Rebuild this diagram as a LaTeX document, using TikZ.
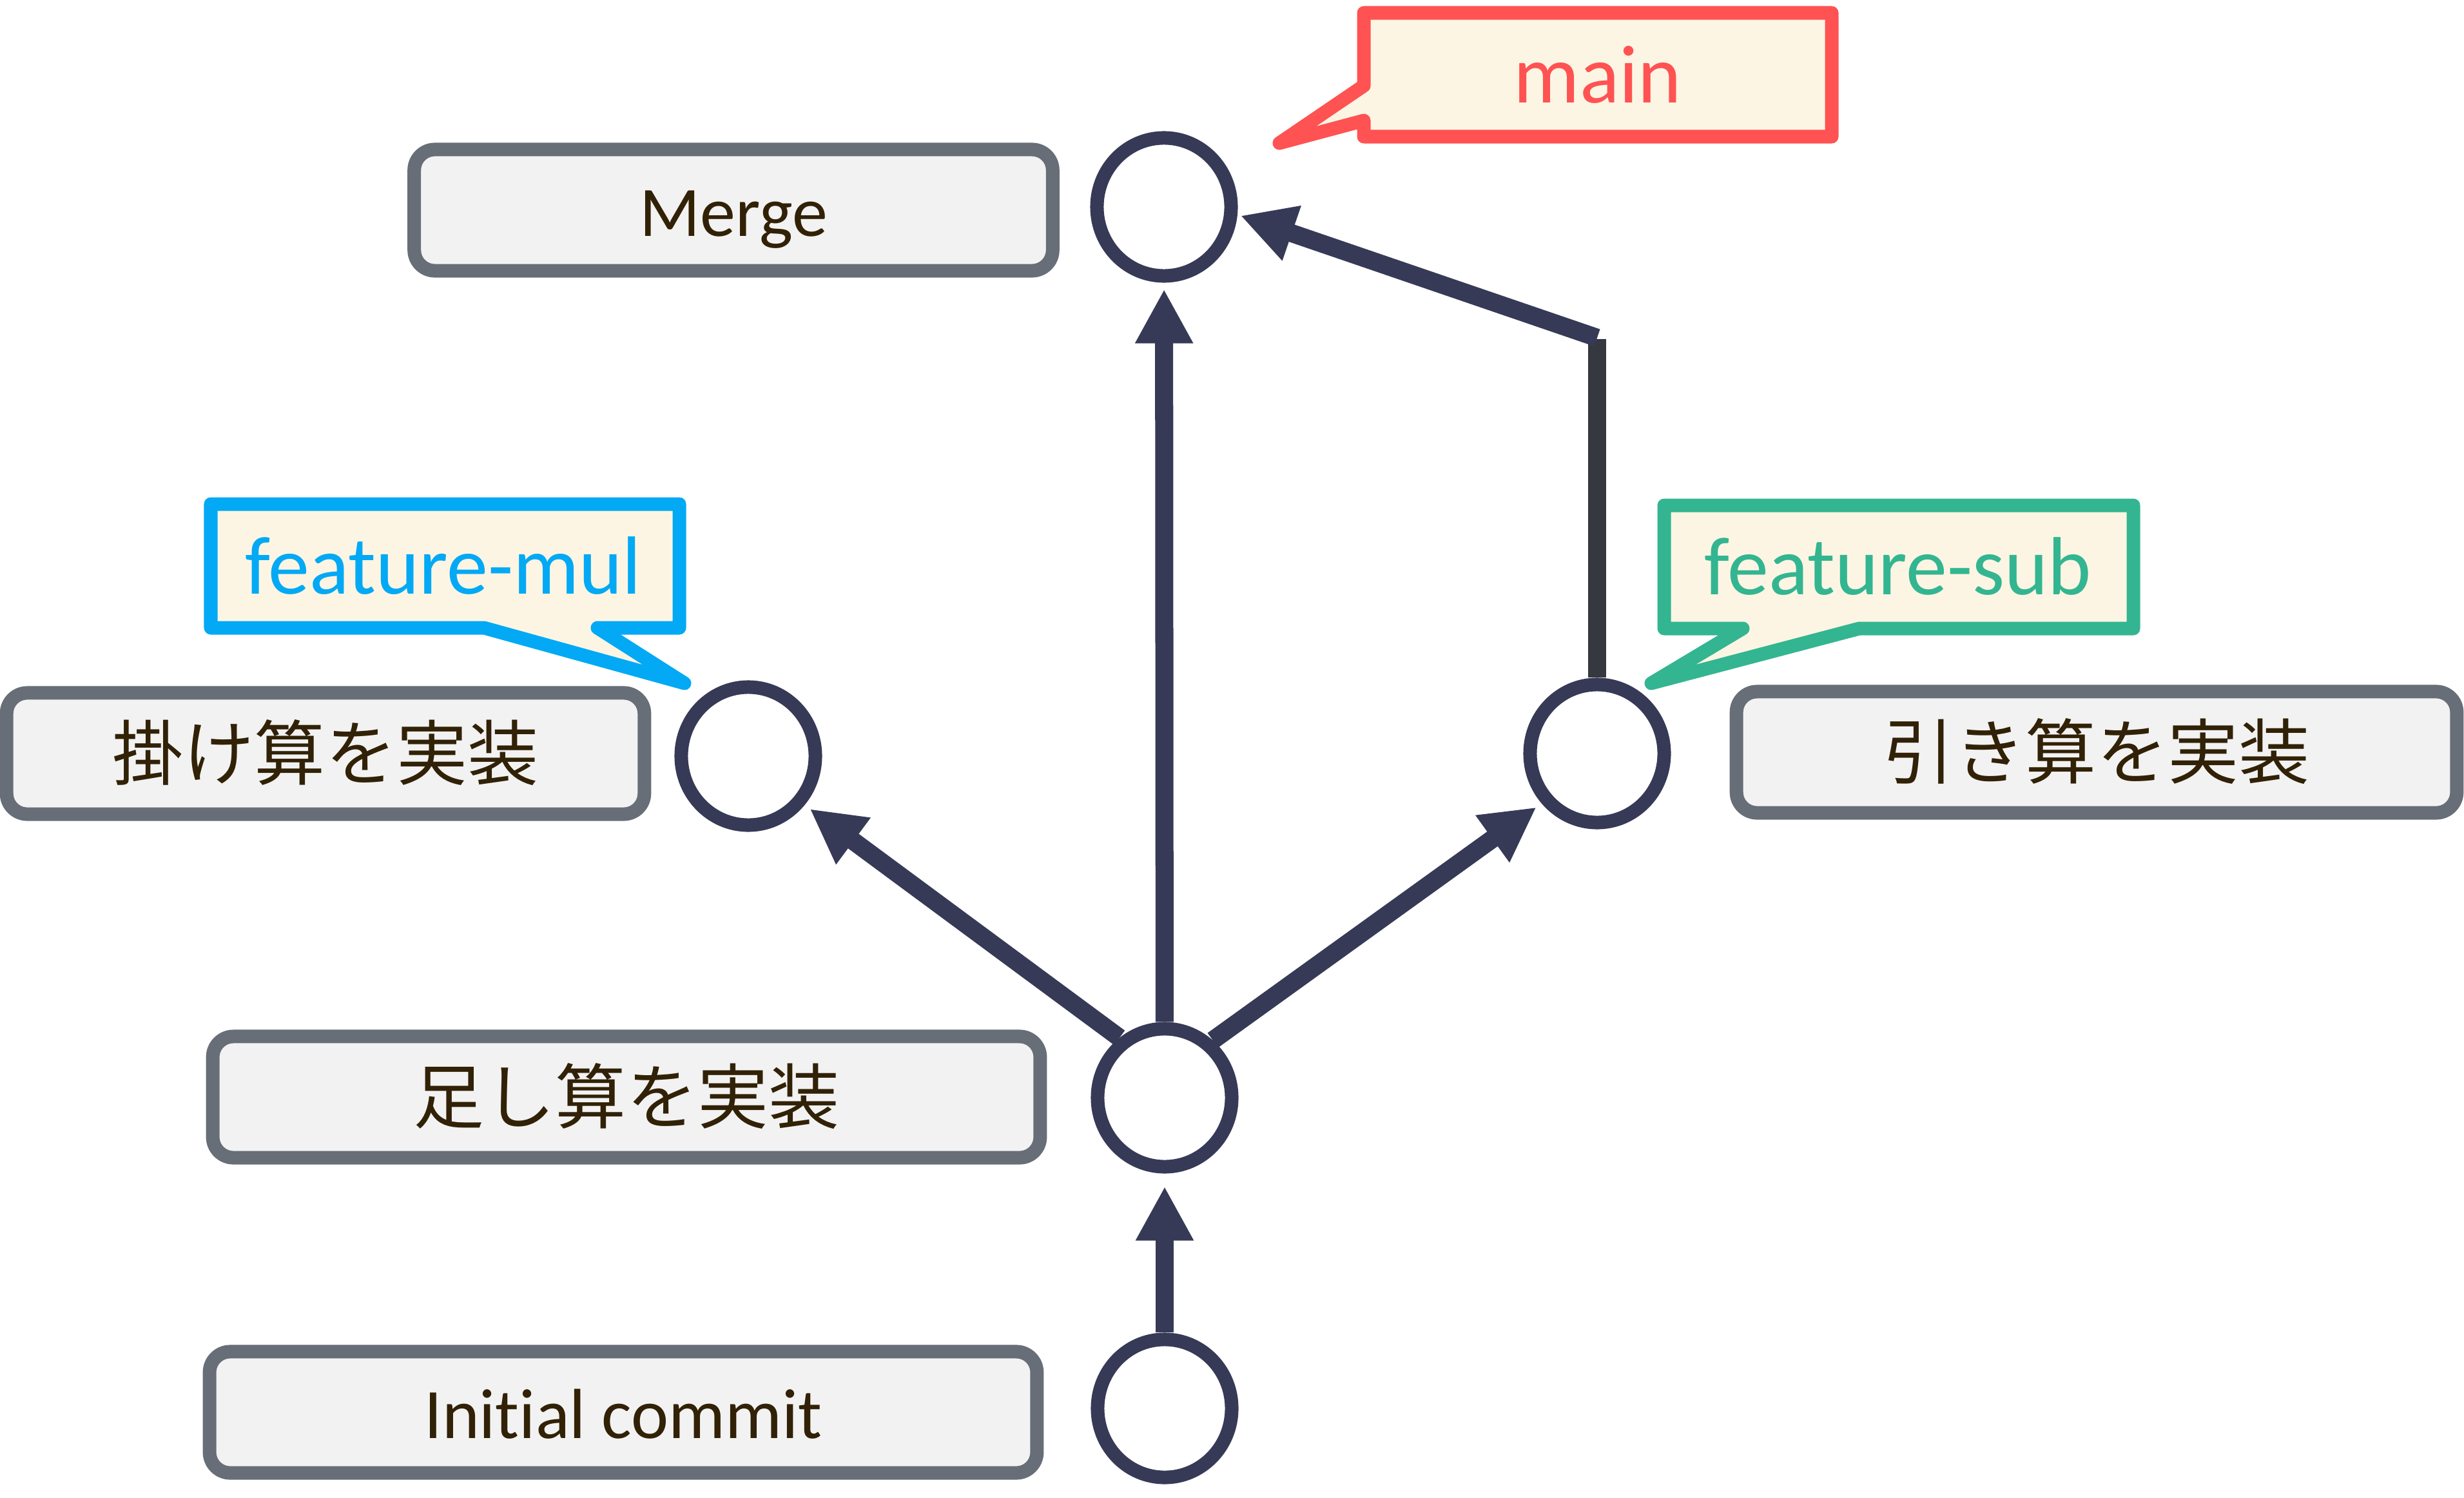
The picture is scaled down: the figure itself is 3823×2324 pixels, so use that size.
\documentclass[tikz,border=0pt]{standalone}
\usepackage{fontspec}
\setmainfont{Carlito}[Ligatures=NoCommon]
\newfontfamily\jpfont{Noto Sans CJK JP}
\usepackage{tikz}
\usetikzlibrary{arrows.meta}
\usetikzlibrary{shapes.geometric}
\definecolor{navy}{RGB}{54, 58, 86}
\definecolor{stem}{RGB}{53, 56, 63}
\definecolor{boxgray}{RGB}{103, 110, 119}
\definecolor{boxfill}{RGB}{242, 242, 242}
\definecolor{msgtext}{RGB}{49, 33, 6}
\definecolor{cream}{RGB}{253, 245, 227}
\definecolor{mainred}{RGB}{255, 82, 82}
\definecolor{mulblue}{RGB}{3, 169, 244}
\definecolor{subgreen}{RGB}{51, 181, 145}

\tikzset{
  commit/.style={ellipse, draw=navy, fill=white, line width=0.21cm, inner sep=0pt,
                 minimum width=2.08cm, minimum height=2.14cm},
  msgbox/.style={rectangle, draw=boxgray, fill=boxfill, line width=0.21cm, rounded corners=0.32cm,
                 inner sep=0pt, minimum height=1.88cm, text height=0.9cm, text depth=0.1cm,
                 text=msgtext, font=\fontsize{31.3pt}{36pt}\selectfont},
  callout/.style={fill=cream, line width=0.21cm, line join=round},
  branch/.style={anchor=base, inner sep=0pt, font=\fontsize{36.4pt}{42pt}\selectfont},
  edge/.style={draw=navy, line width=0.28cm, shorten >=0.1cm,
               -{Triangle[length=0.84cm, width=0.84cm]}}
}

\begin{document}
\begin{tikzpicture}[x=0.01cm, y=-0.01cm]
        \useasboundingbox (0,0) rectangle (3823,2324);
        % commits
        \node[commit] (merge) at (1806, 321) {};
        \node[commit] (mul)   at (1161,1173) {};
        \node[commit] (sub)   at (2478,1169) {};
        \node[commit] (add)   at (1807,1703) {};
        \node[commit] (init)  at (1807,2185) {};
        % commit messages
        \node[msgbox, minimum width= 9.90cm] (lmerge) at (1138, 326) {Merge};
        \node[msgbox, minimum width= 9.89cm] (lmul)   at ( 505,1169) {\jpfont 掛け算を実装};
        \node[msgbox, minimum width=11.17cm] (lsub)   at (3253,1167) {\jpfont 引き算を実装};
        \node[msgbox, minimum width=12.83cm] (ladd)   at ( 972,1702) {\jpfont 足し算を実装};
        \node[msgbox, minimum width=12.83cm] (linit)  at ( 967,2191) {Initial commit};
        % branch pointers
        \filldraw[callout, draw=mainred]  (2116, 20) -- (2842, 20) -- (2842,212) -- (2116,212)
                 -- (2116,187) -- (1985,222) -- (2116,133) -- cycle;
        \node[branch, text=mainred]  (bmain) at (2479, 159) {main};
        \filldraw[callout, draw=mulblue]  ( 327,782) -- (1054,782) -- (1054,974) -- ( 927,974)
                 -- (1062,1060) -- ( 751,974) -- ( 327,974) -- cycle;
        \node[branch, text=mulblue]  (bmul)  at ( 688, 921) {feature-mul};
        \filldraw[callout, draw=subgreen] (2582,784) -- (3310,784) -- (3310,975) -- (2885,975)
                 -- (2562,1060) -- (2704,975) -- (2582,975) -- cycle;
        \node[branch, text=subgreen] (bsub)  at (2945, 922) {feature-sub};
        % history
        \draw[edge, shorten >=0.2cm] (init) -- (add);
        \draw[edge] (add) -- (merge);
        \draw[edge] (add.127) -- (mul.-41);
        \draw[edge] (add.50)  -- (sub.222);
        \coordinate (bend) at (2478, 524);
        \draw[draw=stem, line width=0.28cm] (sub.north) -- (bend |- 0,526);
        \draw[edge, shorten >=0.05cm] (bend) -- (merge.-6);
\end{tikzpicture}
\end{document}
